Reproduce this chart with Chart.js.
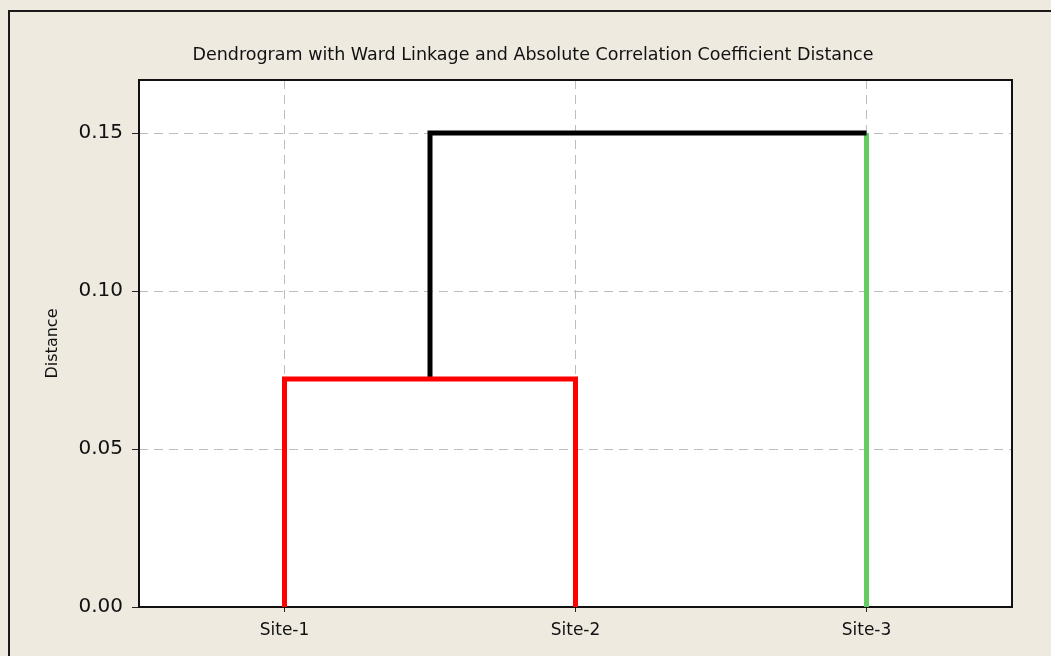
<!DOCTYPE html>
<html>
<head>
<meta charset="utf-8">
<script src="https://cdn.jsdelivr.net/npm/chart.js@4"></script>
<style>
  body { margin: 0; background: #eeeae0; }
  #wrap { width: 1051px; height: 656px; }
</style>
</head>
<body>
<div id="wrap"><canvas id="dendro" width="1051" height="656"></canvas></div>
<script>
// ==============================
// DATA
// ==============================
const leafLabels = ["Site-1", "Site-2", "Site-3"];
const leafPositions = [1, 2, 3];
// merge 0 joins Site-1 + Site-2, merge 1 joins that cluster + Site-3
const mergeHeights = [0.0722, 0.15];
const yTickValues = [0, 0.05, 0.10, 0.15];

const chartTitle = "Dendrogram with Ward Linkage and Absolute Correlation Coefficient Distance";
const FONT = "Tahoma, 'DejaVu Sans', sans-serif";

// ==============================
// BRANCHES
// ==============================
const clusterCenter = (leafPositions[0] + leafPositions[1]) / 2;

const redBranch = [
  { x: leafPositions[0], y: 0 },
  { x: leafPositions[0], y: mergeHeights[0] },
  { x: leafPositions[1], y: mergeHeights[0] },
  { x: leafPositions[1], y: 0 }
];
const blackBranch = [
  { x: clusterCenter, y: mergeHeights[0] },
  { x: clusterCenter, y: mergeHeights[1] },
  { x: leafPositions[2], y: mergeHeights[1] }
];
const greenBranch = [
  { x: leafPositions[2], y: 0 },
  { x: leafPositions[2], y: mergeHeights[1] }
];

function branch(data, color) {
  return {
    data: data,
    showLine: true,
    borderColor: color,
    borderWidth: 5,
    pointRadius: 0,
    borderJoinStyle: "miter",
    borderCapStyle: "butt",
    tension: 0
  };
}

// ==============================
// FRAME + TITLE
// ==============================
const framePlugin = {
  id: "frame",
  beforeDraw(chart) {
    const ctx = chart.ctx;
    ctx.save();
    ctx.fillStyle = "#eeeae0";
    ctx.fillRect(0, 0, chart.width, chart.height);
    ctx.strokeStyle = "#1a1a1a";
    ctx.lineWidth = 2;
    ctx.beginPath();
    ctx.moveTo(9, chart.height);
    ctx.lineTo(9, 11);
    ctx.lineTo(chart.width, 11);
    ctx.stroke();
    const a = chart.chartArea;
    ctx.fillStyle = "#ffffff";
    ctx.fillRect(a.left, a.top, a.right - a.left, a.bottom - a.top);
    ctx.fillStyle = "#111";
    ctx.font = "17.5px " + FONT;
    ctx.textAlign = "center";
    ctx.textBaseline = "alphabetic";
    ctx.fillText(chartTitle, 533, 60);
    ctx.restore();
  },
  beforeDatasetsDraw(chart) {
    const ctx = chart.ctx;
    const a = chart.chartArea;
    ctx.save();
    ctx.strokeStyle = "#111";
    ctx.lineWidth = 2;
    ctx.strokeRect(a.left, a.top, a.right - a.left, a.bottom - a.top);
    ctx.restore();
  }
};

// ==============================
// CHART
// ==============================
new Chart(document.getElementById("dendro"), {
  type: "scatter",
  data: {
    datasets: [
      branch(redBranch, "#ff0000"),
      branch(blackBranch, "#000000"),
      branch(greenBranch, "#63cc63")
    ]
  },
  options: {
    responsive: false,
    animation: false,
    layout: { padding: { top: 80, right: 39, left: 0, bottom: 0 } },
    plugins: { legend: { display: false }, tooltip: { enabled: false }, title: { display: false } },
    scales: {
      x: {
        type: "linear",
        min: 0.5,
        max: 3.5,
        afterBuildTicks: scale => { scale.ticks = leafPositions.map(v => ({ value: v })); },
        afterFit: scale => { scale.height = 49; },
        ticks: {
          callback: (v) => leafLabels[leafPositions.indexOf(v)],
          font: { family: FONT, size: 17 },
          color: "#111",
          padding: 8,
          maxRotation: 0,
          autoSkip: false
        },
        grid: {
          color: "#bdbdbd",
          tickColor: "#222",
          tickLength: 5,
          tickBorderDash: [],
          lineWidth: 1
        },
        border: { display: false, dash: [9, 6] }
      },
      y: {
        type: "linear",
        min: 0,
        max: 0.1668,
        afterBuildTicks: scale => { scale.ticks = yTickValues.map(v => ({ value: v })); },
        afterFit: scale => { scale.width = 139; },
        ticks: {
          callback: v => v.toFixed(2),
          font: { family: FONT, size: 20 },
          color: "#111",
          padding: 9
        },
        grid: {
          color: "#bdbdbd",
          tickColor: "#222",
          tickLength: 7,
          tickBorderDash: [],
          lineWidth: 1
        },
        border: { display: false, dash: [9, 6] },
        title: {
          display: true,
          text: "Distance",
          font: { family: FONT, size: 16 },
          color: "#111",
          padding: { top: 43, bottom: 0 }
        }
      }
    }
  },
  plugins: [framePlugin]
});
</script>
</body>
</html>
